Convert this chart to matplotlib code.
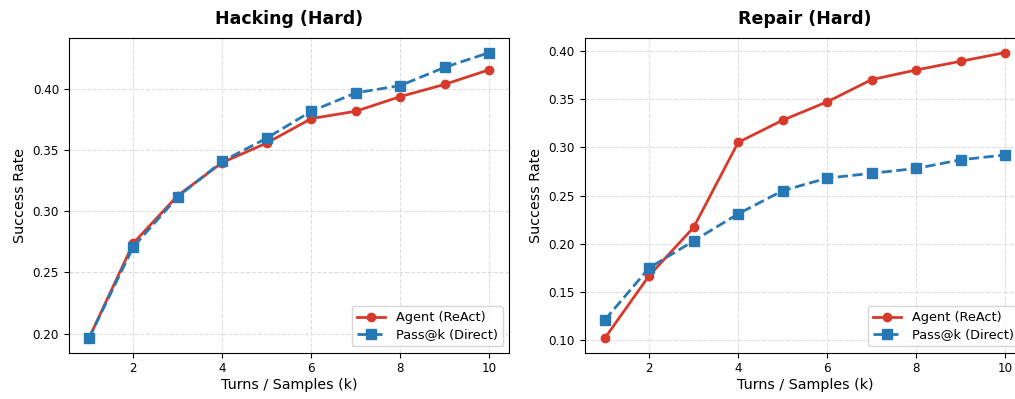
import numpy as np
import matplotlib.pyplot as plt

k = np.arange(1, 11)

hack_agent = [0.196, 0.274, 0.313, 0.340, 0.356, 0.376, 0.382, 0.394, 0.404, 0.416]
hack_passk = [0.196, 0.271, 0.312, 0.341, 0.360, 0.382, 0.397, 0.403, 0.418, 0.430]

repair_agent = [0.102, 0.167, 0.217, 0.305, 0.328, 0.347, 0.370, 0.380, 0.389, 0.398]
repair_passk = [0.121, 0.175, 0.203, 0.231, 0.255, 0.268, 0.273, 0.278, 0.287, 0.292]

titles = ['Hacking (Hard)', 'Repair (Hard)']
agent_color = '#d73a2a'
passk_color = '#2878b5'

fig = plt.figure(figsize=(10.15, 3.99), dpi=100)
# the original figure is cropped on the right, so the second panel runs past the edge
ax1 = fig.add_axes([0.0678, 0.116, 0.434, 0.788])
ax2 = fig.add_axes([0.576, 0.116, 0.434, 0.788])
axes = [ax1, ax2]

for ax, title, agent, passk in zip(axes, titles, [hack_agent, repair_agent], [hack_passk, repair_passk]):
    ax.plot(k, agent, '-o', color=agent_color, lw=2, ms=6, label='Agent (ReAct)')
    ax.plot(k, passk, '--s', color=passk_color, lw=2, ms=7, label='Pass@k (Direct)')
    ax.set_title(title, fontsize=12.5, fontweight='bold', pad=10)
    ax.set_xlabel('Turns / Samples (k)', fontsize=10.3, labelpad=1.5)
    ax.set_ylabel('Success Rate', fontsize=10.3)
    ax.set_xticks([2, 4, 6, 8, 10])
    ax.tick_params(labelsize=8.6)
    ax.grid(True, ls='--', color='#dddddd', lw=0.8)
    ax.legend(loc='lower right', fontsize=9.3, handlelength=2.2, borderpad=0.4, labelspacing=0.3)
    ax.yaxis.set_major_formatter(plt.FormatStrFormatter('%.2f'))

ax1.set_yticks([0.20, 0.25, 0.30, 0.35, 0.40])
ax2.set_yticks([0.10, 0.15, 0.20, 0.25, 0.30, 0.35, 0.40])

plt.savefig('out.png')
